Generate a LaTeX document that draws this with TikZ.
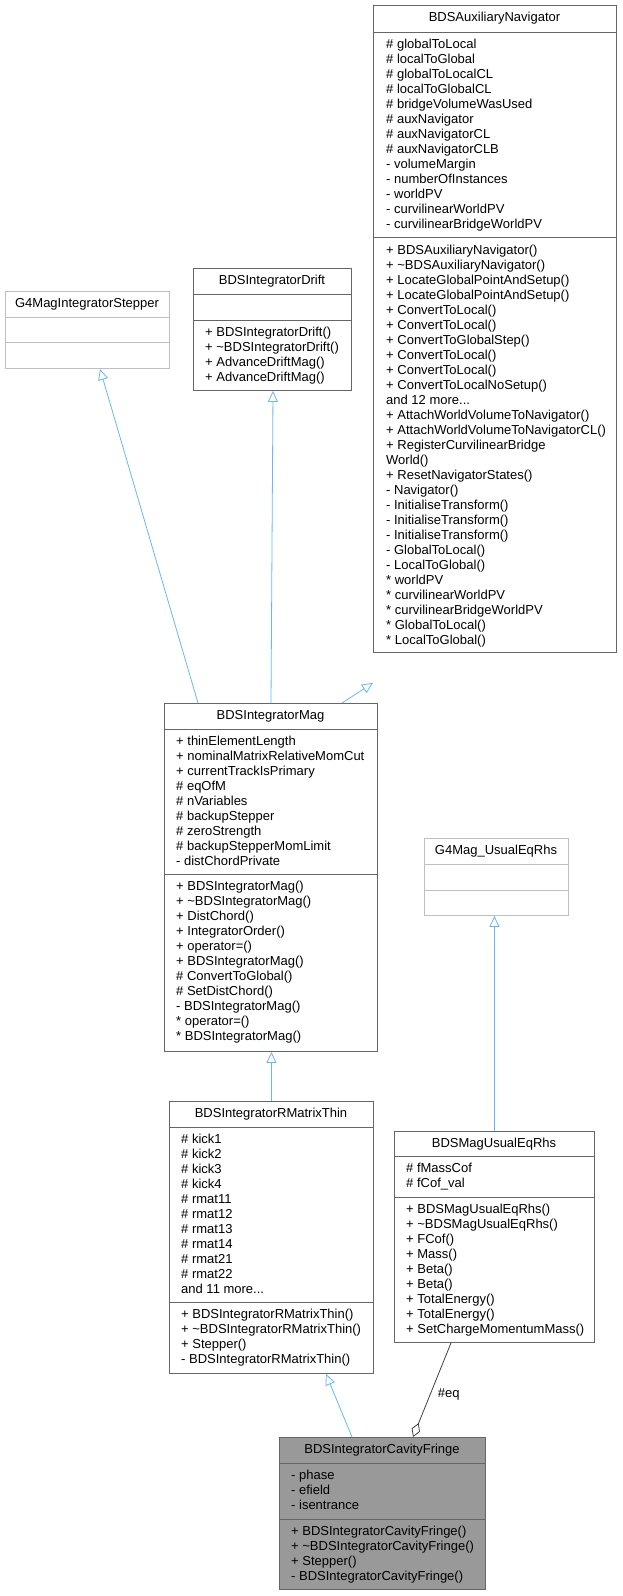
\documentclass[tikz,border=0pt]{standalone}
\usepackage{fontspec}
\setmainfont{Liberation Sans}
\usetikzlibrary{arrows.meta}
\definecolor{inhblue}{HTML}{63B8FF}
\definecolor{boxgray}{HTML}{666666}
\definecolor{extgray}{HTML}{BFBFBF}
\definecolor{curfill}{HTML}{999999}

\begin{document}
\begin{tikzpicture}[x=1pt, y=-1pt,
    cls/.style={draw=boxgray, line width=0.9pt, anchor=north west, inner sep=0pt},
    ext/.style={cls, draw=extgray},
    cur/.style={cls, fill=curfill},
    ttl/.style={font=\fontsize{13}{15}\selectfont, inner sep=0pt},
    txt/.style={font=\fontsize{13}{15}\selectfont, align=left, anchor=north west, inner sep=0pt},
    inh/.style={draw=inhblue, line width=0.8pt, -{Triangle[open, length=11pt, width=10pt]}},
    agg/.style={draw=black!75, line width=0.8pt, -{Diamond[open, length=15pt, width=9pt]}}]
    \useasboundingbox (0,0) rectangle (622,1596);

    % G4MagIntegratorStepper
    \node[ext, minimum width=164pt, minimum height=77pt] (stepper) at (5,291) {};
    \node[ttl] (stepper-t) at (87,304) {G4MagIntegratorStepper};
    \draw[extgray, line width=0.9pt] (5,317) -- (169,317) (5,342) -- (169,342);

    % BDSIntegratorDrift
    \node[cls, minimum width=158pt, minimum height=122pt] (drift) at (193,268) {};
    \node[ttl] (drift-t) at (272,281) {BDSIntegratorDrift};
    \draw[boxgray, line width=0.9pt] (193,294) -- (351,294) (193,320) -- (351,320);
    \node[txt] (drift-m) at (205,327) {+ BDSIntegratorDrift()\\+ \textasciitilde BDSIntegratorDrift()\\+ AdvanceDriftMag()\\+ AdvanceDriftMag()};

    % BDSAuxiliaryNavigator
    \node[cls, minimum width=243pt, minimum height=647pt] (aux) at (373,5) {};
    \node[ttl] (aux-t) at (494.5,18.5) {BDSAuxiliaryNavigator};
    \draw[boxgray, line width=0.9pt] (373,32) -- (616,32) (373,237) -- (616,237);
    \node[txt] (aux-a) at (386,39) {\# globalToLocal\\\# localToGlobal\\\# globalToLocalCL\\\# localToGlobalCL\\\# bridgeVolumeWasUsed\\\# auxNavigator\\\# auxNavigatorCL\\\# auxNavigatorCLB\\- volumeMargin\\- numberOfInstances\\- worldPV\\- curvilinearWorldPV\\- curvilinearBridgeWorldPV};
    \node[txt] (aux-m) at (386,245) {+ BDSAuxiliaryNavigator()\\+ \textasciitilde BDSAuxiliaryNavigator()\\+ LocateGlobalPointAndSetup()\\+ LocateGlobalPointAndSetup()\\+ ConvertToLocal()\\+ ConvertToLocal()\\+ ConvertToGlobalStep()\\+ ConvertToLocal()\\+ ConvertToLocal()\\+ ConvertToLocalNoSetup()\\and 12 more...\\+ AttachWorldVolumeToNavigator()\\+ AttachWorldVolumeToNavigatorCL()\\+ RegisterCurvilinearBridge\\World()\\+ ResetNavigatorStates()\\- Navigator()\\- InitialiseTransform()\\- InitialiseTransform()\\- InitialiseTransform()\\- GlobalToLocal()\\- LocalToGlobal()\\* worldPV\\* curvilinearWorldPV\\* curvilinearBridgeWorldPV\\* GlobalToLocal()\\* LocalToGlobal()};

    % BDSIntegratorMag
    \node[cls, minimum width=213pt, minimum height=348pt] (mag) at (164,703) {};
    \node[ttl] (mag-t) at (270.5,716) {BDSIntegratorMag};
    \draw[boxgray, line width=0.9pt] (164,729) -- (377,729) (164,874) -- (377,874);
    \node[txt] (mag-a) at (176,736) {+ thinElementLength\\+ nominalMatrixRelativeMomCut\\+ currentTrackIsPrimary\\\# eqOfM\\\# nVariables\\\# backupStepper\\\# zeroStrength\\\# backupStepperMomLimit\\- distChordPrivate};
    \node[txt] (mag-m) at (176,881) {+ BDSIntegratorMag()\\+ \textasciitilde BDSIntegratorMag()\\+ DistChord()\\+ IntegratorOrder()\\+ operator=()\\+ BDSIntegratorMag()\\\# ConvertToGlobal()\\\# SetDistChord()\\- BDSIntegratorMag()\\* operator=()\\* BDSIntegratorMag()};

    % G4Mag_UsualEqRhs
    \node[ext, minimum width=144pt, minimum height=77pt] (g4eq) at (424,838) {};
    \node[ttl] (g4eq-t) at (496,851) {G4Mag\_UsualEqRhs};
    \draw[extgray, line width=0.9pt] (424,864) -- (568,864) (424,890) -- (568,890);

    % BDSIntegratorRMatrixThin
    \node[cls, minimum width=204pt, minimum height=272pt] (rmat) at (169,1101) {};
    \node[ttl] (rmat-t) at (271,1114) {BDSIntegratorRMatrixThin};
    \draw[boxgray, line width=0.9pt] (169,1127) -- (373,1127) (169,1302) -- (373,1302);
    \node[txt] (rmat-a) at (181,1134) {\# kick1\\\# kick2\\\# kick3\\\# kick4\\\# rmat11\\\# rmat12\\\# rmat13\\\# rmat14\\\# rmat21\\\# rmat22\\and 11 more...};
    \node[txt] (rmat-m) at (181,1309) {+ BDSIntegratorRMatrixThin()\\+ \textasciitilde BDSIntegratorRMatrixThin()\\+ Stepper()\\- BDSIntegratorRMatrixThin()};

    % BDSMagUsualEqRhs
    \node[cls, minimum width=200pt, minimum height=211pt] (bdseq) at (394,1131) {};
    \node[ttl] (bdseq-t) at (494,1144) {BDSMagUsualEqRhs};
    \draw[boxgray, line width=0.9pt] (394,1156) -- (594,1156) (394,1197) -- (594,1197);
    \node[txt] (bdseq-a) at (406,1163) {\# fMassCof\\\# fCof\_val};
    \node[txt] (bdseq-m) at (406,1204) {+ BDSMagUsualEqRhs()\\+ \textasciitilde BDSMagUsualEqRhs()\\+ FCof()\\+ Mass()\\+ Beta()\\+ Beta()\\+ TotalEnergy()\\+ TotalEnergy()\\+ SetChargeMomentumMass()};

    % BDSIntegratorCavityFringe
    \node[cur, minimum width=206pt, minimum height=152pt] (cav) at (279,1437) {};
    \node[ttl] (cav-t) at (382,1450) {BDSIntegratorCavityFringe};
    \draw[boxgray, line width=0.9pt] (279,1463) -- (485,1463) (279,1519) -- (485,1519);
    \node[txt] (cav-a) at (291,1470) {- phase\\- efield\\- isentrance};
    \node[txt] (cav-m) at (291,1526) {+ BDSIntegratorCavityFringe()\\+ \textasciitilde BDSIntegratorCavityFringe()\\+ Stepper()\\- BDSIntegratorCavityFringe()};

    % connectors
    \draw[inh] ([xshift=34pt]mag.north west) -- ([xshift=95pt]stepper.south west);
    \draw[inh] ([xshift=107pt]mag.north west) -- ([xshift=80pt]drift.south west);
    \draw[inh] ([xshift=178pt]mag.north west) -- ([yshift=-30pt]aux.south west);
    \draw[inh] (rmat.north) -- (rmat.north |- mag.south);
    \draw[inh] (bdseq.north) -- (bdseq.north |- g4eq.south);
    \draw[inh] ([xshift=73pt]cav.north west) -- ([xshift=157pt]rmat.south west);
    \draw[agg] ([xshift=57pt]bdseq.south west) -- node[right=4pt, pos=0.55, font=\fontsize{13}{15}\selectfont] (eq-l) {\#eq} ([xshift=134pt]cav.north west);
\end{tikzpicture}
\end{document}
